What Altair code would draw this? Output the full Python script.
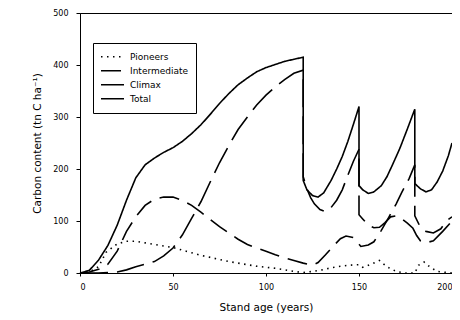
import altair as alt
import pandas as pd

series_names = ["Pioneers", "Intermediate", "Climax", "Total"]

total_years = [0, 5, 10, 15, 20, 25, 30, 35, 40, 45, 50, 55, 60, 65, 70, 75, 80, 85, 90, 95, 100, 105, 110, 115, 120,
               120, 122, 125, 128, 131, 135, 138, 141, 144, 147, 150,
               150, 152, 155, 158, 162, 165, 168, 172, 176, 180,
               180, 183, 186, 189, 192, 195, 198, 200]
total_carbon = [0, 5, 25, 53, 92, 140, 183, 208, 221, 232, 241, 253, 268, 285, 305, 326, 345, 362, 375, 387, 395, 401, 407, 411, 415,
                178, 160, 149, 146, 154, 178, 200, 224, 253, 286, 320,
                168, 160, 153, 156, 168, 185, 208, 240, 277, 315,
                172, 162, 156, 160, 175, 196, 225, 250]

climax_years = [0, 10, 20, 25, 30, 35, 40, 45, 50, 55, 60, 65, 70, 75, 80, 85, 90, 95, 100, 105, 110, 115, 120,
                120, 122, 124, 126, 129, 132, 135, 138, 141, 144, 147, 150,
                150, 152, 155, 158, 161, 164, 167, 170, 173, 176, 179, 181, 183, 186, 190, 195, 200]
climax_carbon = [0, 0, 2, 6, 12, 17, 22, 33, 48, 73, 105, 137, 175, 212, 245, 276, 300, 323, 342, 358, 372, 384, 390,
                 185, 162, 145, 133, 122, 118, 126, 140, 160, 188, 215, 238,
                 112, 104, 92, 87, 88, 97, 108, 110, 104, 96, 86, 72, 62, 58, 62, 80, 100]

intermediate_years = [0, 5, 10, 15, 20, 25, 30, 35, 40, 45, 50, 55, 60, 65, 70, 75, 80, 85, 90, 95, 100, 105, 110, 115, 120,
                      125, 128, 132, 136, 140, 143, 147, 151,
                      155, 158, 162, 166, 170, 173, 177, 180,
                      180, 183, 186, 190, 194, 197, 200]
intermediate_carbon = [0, 2, 7, 17, 42, 80, 108, 130, 142, 146, 146, 140, 130, 117, 103, 89, 77, 65, 55, 48, 42, 35, 29, 24, 19,
                       15, 20, 35, 51, 66, 71, 68, 51,
                       54, 60, 82, 107, 133, 155, 182, 208,
                       110, 88, 80, 77, 85, 100, 108]

pioneer_years = [0, 5, 10, 14, 20, 25, 30, 35, 40, 45, 50, 55, 60, 65, 70, 75, 80, 85, 90, 95, 100, 105, 110, 115, 120,
                 125, 130, 135, 140, 145, 150, 152, 156, 161, 165, 170, 175, 180,
                 182, 185, 188, 192, 200]
pioneer_carbon = [0, 2, 12, 40, 56, 61, 61, 58, 55, 52, 49, 44, 39, 34, 30, 26, 22, 19, 16, 13, 11, 9, 6, 3, 1,
                  3, 6, 10, 13, 15, 16, 11, 16, 24, 12, 3, 0, 0,
                  15, 21, 12, 3, 0]

x_ticks = [0, 50, 100, 150, 200]
y_ticks = [0, 100, 200, 300, 400, 500]

rows = []
for name, xs, ys in [("Pioneers", pioneer_years, pioneer_carbon),
                     ("Intermediate", intermediate_years, intermediate_carbon),
                     ("Climax", climax_years, climax_carbon),
                     ("Total", total_years, total_carbon)]:
    for i, (x, y) in enumerate(zip(xs, ys)):
        rows.append({"series": name, "year": x, "carbon": y, "seq": i})
df = pd.DataFrame(rows)

dashes = [[1.5, 4.5], [20, 9], [28, 9], [1, 0]]

chart = alt.Chart(df).mark_line(color="black", strokeWidth=1.6).encode(
    x=alt.X("year:Q", scale=alt.Scale(domain=[0, 200], nice=False),
            axis=alt.Axis(values=x_ticks, title="Stand age (years)", grid=False,
                          tickSize=3, labelPadding=7, titlePadding=11,
                          labelFont="DejaVu Sans", labelFontSize=8,
                          titleFont="DejaVu Sans", titleFontSize=10.5, titleFontWeight="normal",
                          labelColor="black", titleColor="black",
                          domainColor="black", tickColor="black")),
    y=alt.Y("carbon:Q", scale=alt.Scale(domain=[0, 500], nice=False),
            axis=alt.Axis(values=y_ticks, title="Carbon content (tn C ha⁻¹)", grid=False,
                          tickSize=4, labelPadding=8, titlePadding=10,
                          labelFont="DejaVu Sans", labelFontSize=8,
                          titleFont="DejaVu Sans", titleFontSize=10.5, titleFontWeight="normal",
                          labelColor="black", titleColor="black",
                          domainColor="black", tickColor="black")),
    strokeDash=alt.StrokeDash("series:N",
                              scale=alt.Scale(domain=series_names, range=dashes),
                              legend=alt.Legend(orient="none", legendX=13, legendY=30, title=None,
                                                symbolType="stroke", symbolSize=529,
                                                symbolStrokeWidth=1.5, symbolStrokeColor="black",
                                                clipHeight=13.5, rowPadding=0, padding=7,
                                                strokeColor="black", fillColor="white",
                                                labelFont="DejaVu Sans", labelFontSize=9,
                                                labelOffset=5, labelColor="black", cornerRadius=0)),
    order="seq:Q",
).properties(
    width=372, height=260,
    padding={"left": 72, "top": 5, "right": 0, "bottom": 42},
    autosize=alt.AutoSizeParams(type="none"),
).configure_view(stroke="black", strokeWidth=1)

chart.save("out.html", embed_options={"renderer": "svg", "actions": False})
